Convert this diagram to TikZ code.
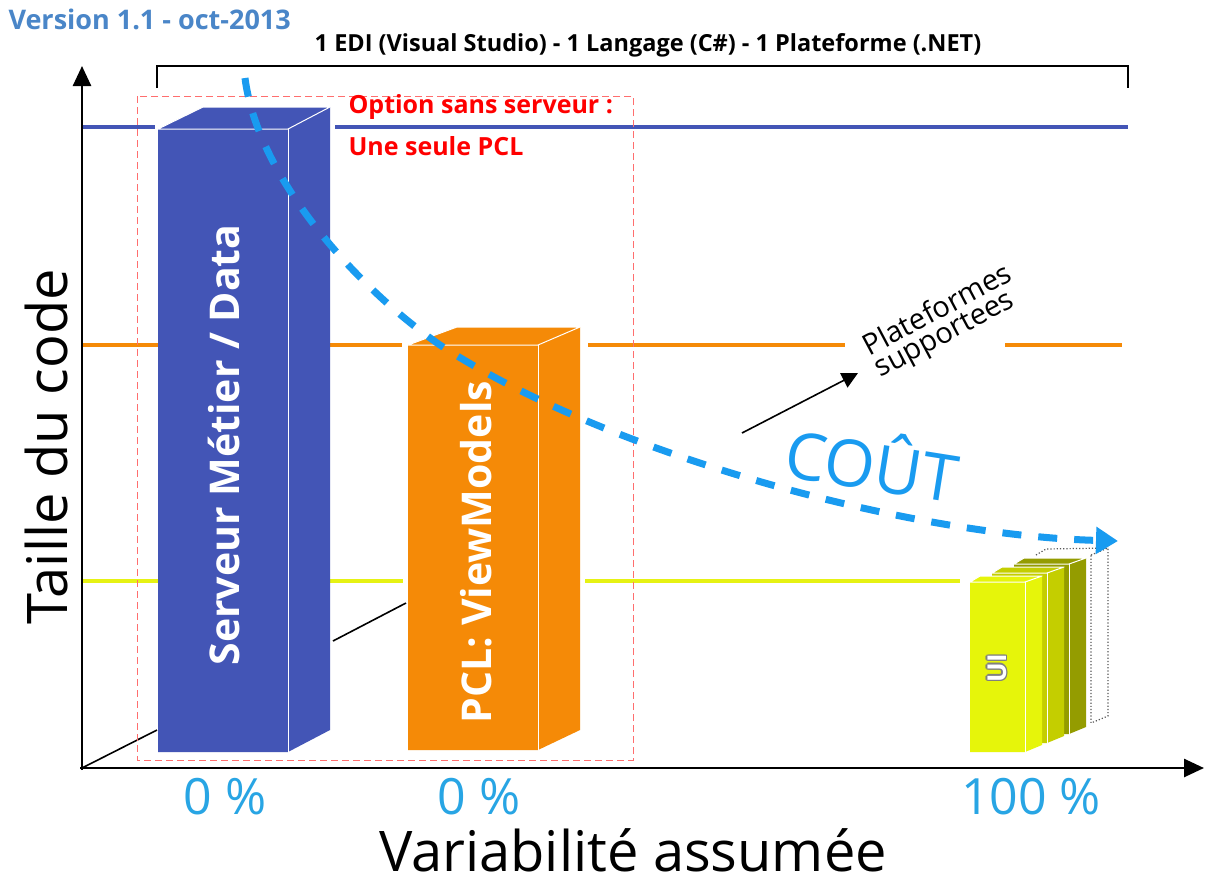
\documentclass[tikz,border=0pt]{standalone}
\usepackage{fontspec}
\setmainfont{Open Sans}
\usetikzlibrary{arrows.meta}
\definecolor{boxblue}{RGB}{67,85,182}
\definecolor{boxorange}{RGB}{245,138,7}
\definecolor{yelA}{RGB}{230,245,10}
\definecolor{yelB}{RGB}{196,206,0}
\definecolor{yelC}{RGB}{148,156,0}
\definecolor{lineyel}{RGB}{230,242,20}
\definecolor{cyanc}{RGB}{25,155,240}
\definecolor{cyant}{RGB}{40,165,228}
\definecolor{verblue}{RGB}{74,134,200}
\definecolor{redbox}{RGB}{255,110,110}
\tikzset{
  face/.style={draw=white, line width=1pt, line join=round},
  levelline/.style={line width=4pt},
  axisline/.style={line width=2.6pt, -{Triangle[length=20pt,width=18pt]}},
  pct/.style={text=cyant, font=\fontsize{50}{50}\selectfont},
  boxlabel/.style={text=white, font=\bfseries\fontsize{41}{41}\selectfont, rotate=90},
  redlabel/.style={anchor=west, text=red, font=\bfseries\fontsize{25}{25}\selectfont},
  uitext/.style={font=\bfseries\fontsize{26}{26}\selectfont, rotate=90},
}
\begin{document}
\begin{tikzpicture}[x=1pt,y=-1pt]
\useasboundingbox[fill=white] (0,0) rectangle (1212,884);

% level lines
\draw[levelline, boxblue] (82,127) -- (155,127);
\draw[levelline, boxblue] (335,127) -- (1128,127);
\draw[levelline, boxorange] (82,345) -- (402,345);
\draw[levelline, boxorange] (588,345) -- (845,345);
\draw[levelline, boxorange] (1005,345) -- (1122,345);
\draw[levelline, lineyel] (82,581) -- (403,581);
\draw[levelline, lineyel] (585,581) -- (960,581);

% diagonal axis
\coordinate (o) at (82,768);
\coordinate (d1) at (157,730);
\coordinate (d2) at (333,641);
\coordinate (d3) at (406,603);
\coordinate (d4) at (742,433);
\coordinate (d5) at (858,373);
\draw[line width=1.6pt] (o) -- (d1);
\draw[line width=1.6pt] (d2) -- (d3);
\draw[line width=1.6pt, -{Triangle[length=16pt,width=16pt]}] (d4) -- (d5);

% red dashed option box
\draw[redbox, line width=1pt, dash pattern=on 7pt off 4pt] (137,96) rectangle (633,760);
\node[redlabel] (opt1) at (345,107) {Option sans serveur :};
\node[redlabel] (opt2) at (345,146) {Une seule PCL};

% blue box
\fill[boxblue] (158,129) -- (203,107) -- (330,107) -- (330,730) -- (288,752) -- (158,752) -- cycle;
\draw[face] (158,129) -- (203,107) -- (330,107) -- (288,129) -- cycle;
\draw[face] (288,129) -- (288,752);
\node[boxlabel] (srv) at (224,445) {Serveur Métier / Data};

% orange box
\fill[boxorange] (408,345) -- (457,327) -- (580,327) -- (580,730) -- (538,750) -- (408,750) -- cycle;
\draw[face] (408,345) -- (457,327) -- (580,327) -- (538,345) -- cycle;
\draw[face] (538,345) -- (538,750);
\node[boxlabel] (pcl) at (476,552) {PCL: ViewModels};

% UI boxes (back to front)
\draw[gray!70!black, line width=1.2pt, dotted, fill=white] (1091,555) -- (1108,548) -- (1108,716) -- (1091,723) -- cycle;
\draw[gray!70!black, line width=1.2pt, dotted] (1036,555) -- (1046,549) -- (1108,548);
\fill[yelC] (1014,564) -- (1024,558) -- (1086,558) -- (1086,727) -- (1069,734) -- (1014,734) -- cycle;
\draw[face] (1069,564) -- (1069,734);
\draw[face] (1014,564) -- (1024,558) -- (1086,558) -- (1069,564) -- cycle;
\fill[yelB] (992,573) -- (1002,567) -- (1064,567) -- (1064,736) -- (1047,743) -- (992,743) -- cycle;
\draw[face] (1047,573) -- (1047,743);
\draw[face] (992,573) -- (1002,567) -- (1064,567) -- (1047,573) -- cycle;
\fill[yelA] (970,582) -- (980,576) -- (1042,576) -- (1042,745) -- (1025,752) -- (970,752) -- cycle;
\draw[face] (970,582) -- (980,576) -- (1042,576) -- (1025,582) -- cycle;
\draw[face] (1025,582) -- (1025,752);
\foreach \dx/\dy in {-1.3/0,1.3/0,0/-1.3,0/1.3,-1/-1,1/1,-1/1,1/-1}{
  \node[uitext, text=gray] at (997+\dx,668+\dy) {UI};
}
\node[uitext, text=white] (ui) at (997,668) {UI};

% axes
\coordinate (yb) at (82,770);
\coordinate (yt) at (82,66);
\coordinate (xl) at (80,768);
\coordinate (xr) at (1204,768);
\draw[axisline] (yb) -- (yt);
\draw[axisline] (xl) -- (xr);

% top bracket
\draw[line width=1.8pt] (157,88) -- (157,66) -- (1128,66) -- (1128,88);
\node[font=\bfseries\fontsize{23.5}{23.5}\selectfont] (edi) at (648,45) {1 EDI (Visual Studio) - 1 Langage (C\#) - 1 Plateforme (.NET)};
\node[anchor=west, text=verblue, font=\bfseries\fontsize{27}{27}\selectfont] (ver) at (5,19) {Version 1.1 - oct-2013};

% cost curve
\draw[cyanc, line width=7pt, dash pattern=on 19pt off 17pt, -{Triangle[length=22pt,width=26pt]}]
  (245,78) .. controls (258,180) and (360,290) .. (440,345)
  .. controls (600,450) and (900,535) .. (1118,541);
\node[text=cyanc, font=\fontsize{65}{65}\selectfont, rotate=-9] (cout) at (873,460) {COÛT};

% platforms label
\node[rotate=28, align=left, font=\fontsize{29}{24}\selectfont, inner sep=0pt] (plat) at (944,322) {Plateformes\\supportees};

% axis titles and values
\node[rotate=90, font=\fontsize{56}{56}\selectfont] (ytitle) at (46,447) {Taille du code};
\node[font=\fontsize{56}{56}\selectfont] (xtitle) at (633,850) {Variabilité assumée};
\node[pct] (p1) at (225,797) {0 \%};
\node[pct] (p2) at (479,797) {0 \%};
\node[pct] (p3) at (1031,797) {100 \%};
\end{tikzpicture}
\end{document}
